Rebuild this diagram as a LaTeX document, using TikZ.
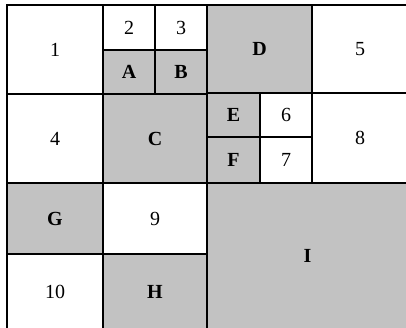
\documentclass[tikz,border=0pt]{standalone}
\usepackage{fontspec}
\setmainfont{Liberation Serif}
\begin{document}
\begin{tikzpicture}[x=1pt,y=-1pt,
  cell/.style={draw=black,line width=1.2pt,inner sep=0pt,outer sep=0pt,font=\fontsize{20}{22}\selectfont},
  wcell/.style={cell,fill=white},
  gcell/.style={cell,fill=gray!48,font=\fontsize{20}{22}\selectfont\bfseries}]
\useasboundingbox (0,0) rectangle (406,327);
\fill[white] (0,0) rectangle (406,327);
\newcommand\cellat[7]{% style, name, x1,y1,x2,y2, text
  \node[#1,minimum width={#5-#3},minimum height={#6-#4}] (#2) at ({(#3+#5)/2},{(#4+#6)/2}) {#7};}
\cellat{wcell}{n1}{7}{5}{103}{94}{1}
\cellat{wcell}{n2}{103}{5}{155}{50}{2}
\cellat{wcell}{n3}{155}{5}{207}{50}{3}
\cellat{gcell}{nA}{103}{50}{155}{94}{A}
\cellat{gcell}{nB}{155}{50}{207}{94}{B}
\cellat{gcell}{nD}{207}{5}{312}{93}{D}
\cellat{wcell}{n5}{312}{5}{408}{93}{5}
\cellat{wcell}{n4}{7}{94}{103}{183}{4}
\cellat{gcell}{nC}{103}{94}{207}{183}{C}
\cellat{gcell}{nE}{207}{93}{260}{137}{E}
\cellat{gcell}{nF}{207}{137}{260}{183}{F}
\cellat{wcell}{n6}{260}{93}{312}{137}{6}
\cellat{wcell}{n7}{260}{137}{312}{183}{7}
\cellat{wcell}{n8}{312}{93}{408}{183}{8}
\cellat{gcell}{nG}{7}{183}{103}{254}{G}
\cellat{wcell}{n9}{103}{183}{207}{254}{9}
\cellat{wcell}{n10}{7}{254}{103}{329}{10}
\cellat{gcell}{nH}{103}{254}{207}{329}{H}
\cellat{gcell}{nI}{207}{183}{408}{329}{I}
\end{tikzpicture}
\end{document}
